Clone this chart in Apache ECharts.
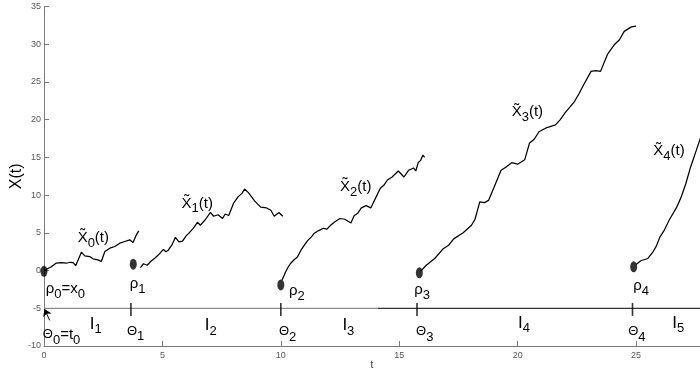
<!DOCTYPE html>
<html><head><meta charset="utf-8">
<script src="https://cdn.jsdelivr.net/npm/echarts@6/dist/echarts.min.js"></script>
<style>html,body{margin:0;padding:0;background:#fff}#c{width:700px;height:372px}</style>
</head><body><div id="c"></div>
<script>
// ---- data ----
var xTicks = [0, 5, 10, 15, 20, 25];
var yTicks = [-10, -5, 0, 5, 10, 15, 20, 25, 30, 35];
var x0Path = [[0,0],[0.31,0.5],[0.52,1.0],[0.73,1.06],[0.94,0.97],[1.1,1.1],[1.23,1.06],[1.34,0.66],[1.58,2.44],[1.72,1.95],[1.93,1.86],[2.07,1.55],[2.28,1.42],[2.42,1.2],[2.57,2.52],[2.78,2.97],[2.99,3.19],[3.2,3.63],[3.41,3.85],[3.62,4.07],[3.76,3.71],[3.9,4.73],[4.0,5.26]];
var x1Path = [[4.07,0.4],[4.2,0.9],[4.36,0.7],[4.5,1.2],[4.7,1.7],[4.9,2.3],[5.04,2.8],[5.15,2.5],[5.25,2.7],[5.4,3.4],[5.55,4.4],[5.7,3.8],[5.85,3.9],[6.0,4.6],[6.1,4.9],[6.3,5.6],[6.48,6.4],[6.6,6.0],[6.8,6.7],[7.03,7.7],[7.16,7.2],[7.35,7.4],[7.54,6.9],[7.65,7.5],[7.8,7.3],[8.0,8.9],[8.2,9.8],[8.35,10.2],[8.47,10.8],[8.64,10.3],[8.9,9.2],[9.15,8.4],[9.4,8.3],[9.58,8.0],[9.72,7.2],[9.79,7.4],[9.92,7.7],[10.08,7.2]];
var x2Path = [[10.05,-1.3],[10.2,-0.2],[10.3,0.4],[10.4,0.9],[10.55,1.4],[10.7,1.8],[10.85,2.7],[11.0,3.4],[11.14,4.0],[11.3,4.5],[11.4,4.9],[11.6,5.3],[11.8,5.6],[11.95,5.5],[12.1,6.0],[12.3,6.5],[12.5,6.9],[12.7,6.8],[12.96,6.3],[13.1,7.3],[13.25,7.6],[13.4,8.3],[13.6,8.6],[13.8,8.3],[14.0,9.6],[14.2,10.9],[14.35,11.3],[14.5,12.0],[14.7,12.4],[14.96,13.2],[15.2,12.4],[15.4,13.3],[15.6,13.6],[15.7,13.2],[15.8,14.3],[15.9,14.6],[16.0,15.3],[16.07,15.0]];
var x3Path = [[15.9,-0.1],[16.14,0.7],[16.5,1.6],[16.86,2.9],[17.1,3.4],[17.3,4.2],[17.7,5.0],[18.05,6.0],[18.2,6.8],[18.4,9.1],[18.6,9.0],[18.77,9.3],[19.0,11.0],[19.3,13.3],[19.5,13.7],[19.75,14.3],[20.0,14.1],[20.3,14.7],[20.5,16.9],[20.7,17.4],[20.9,18.4],[21.2,18.9],[21.6,19.3],[21.8,20.0],[22.0,20.9],[22.4,22.4],[22.6,23.5],[22.8,24.7],[23.1,26.4],[23.3,26.5],[23.5,26.4],[23.8,28.7],[24.1,30.0],[24.3,30.6],[24.5,31.7],[24.8,32.3],[25.0,32.4]];
var x4Path = [[25.0,0.8],[25.2,1.3],[25.5,1.6],[25.7,2.4],[25.85,3.2],[26.0,4.4],[26.2,5.4],[26.4,6.7],[26.7,8.3],[26.9,9.7],[27.1,11.5],[27.3,13.7],[27.55,16.0],[27.8,18.3]];
var rhoPoints = [[0,-0.1],[3.77,0.85],[10.0,-1.9],[15.85,-0.3],[24.9,0.5]];
var thetaTimes = [3.67, 10.0, 15.75, 24.85];
var baseLevel = -5;
var baseSplit = 14.1;
var tMax = 27.7;

// annotation texts: [t, v, richText]
var annotations = [
  [1.42, 4.34, '{m|X\u0303}{s|0}{m|(t)}'],
  [5.81, 8.9, '{m|X\u0303}{s|1}{m|(t)}'],
  [12.5, 11.1, '{m|X\u0303}{s|2}{m|(t)}'],
  [19.75, 21.0, '{m|X\u0303}{s|3}{m|(t)}'],
  [25.73, 15.8, '{m|X\u0303}{s|4}{m|(t)}'],
  [0.07, -2.43, '{m|\u03c1}{s|0}{m|=x}{s|0}'],
  [3.62, -1.77, '{m|\u03c1}{s|1}'],
  [10.34, -2.7, '{m|\u03c1}{s|2}'],
  [15.63, -2.55, '{m|\u03c1}{s|3}'],
  [24.88, -2.0, '{m|\u03c1}{s|4}'],
  [-0.05, -8.5, '{t|\u0398}{s|0}{m|=t}{s|0}'],
  [3.5, -8.06, '{t|\u0398}{s|1}'],
  [9.92, -8.1, '{t|\u0398}{s|2}'],
  [15.71, -8.1, '{t|\u0398}{s|3}'],
  [24.67, -8.1, '{t|\u0398}{s|4}'],
  [1.93, -7.07, '{i|I}{s|1}'],
  [6.79, -7.3, '{i|I}{s|2}'],
  [12.6, -7.3, '{i|I}{s|3}'],
  [20.02, -7.0, '{i|I}{s|4}'],
  [26.53, -7.0, '{i|I}{s|5}']
];
var arrowFrom = [0.24, -6.6];
var arrowTo = [0.02, -5.1];

// ---- chart ----
var FONT = 'Liberation Sans, Arial, sans-serif';
var chart = echarts.init(document.getElementById('c'), null, {renderer: 'canvas'});
function pathSeries(d) {
  return {type: 'line', data: d, showSymbol: false, symbol: 'none', animation: false,
    lineStyle: {color: '#000', width: 1.25}, z: 3};
}
chart.setOption({
  animation: false,
  grid: {left: 44, right: 0, top: 6.5, bottom: 26, containLabel: false, outerBoundsMode: 'none'},
  xAxis: {
    type: 'value', min: 0, max: tMax, interval: 5,
    name: 't', nameLocation: 'middle', nameGap: 14, nameMoveOverlap: false,
    nameTextStyle: {fontSize: 10, color: '#333', fontFamily: FONT, verticalAlign: 'top'},
    axisLine: {onZero: false, lineStyle: {color: '#7a7a7a', width: 1}},
    axisTick: {inside: true, length: 5, lineStyle: {color: '#7a7a7a'}},
    axisLabel: {fontSize: 9, color: '#555', fontFamily: FONT, margin: 5, showMaxLabel: false,
      formatter: function (v) { return xTicks.indexOf(v) >= 0 ? String(v) : ''; }},
    splitLine: {show: false}
  },
  yAxis: {
    type: 'value', min: -10, max: 35, interval: 5,
    name: 'X(t)', nameLocation: 'middle', nameGap: 19, nameMoveOverlap: false,
    nameTextStyle: {fontSize: 16, color: '#000', fontFamily: FONT},
    axisLine: {show: true, onZero: false, lineStyle: {color: '#7a7a7a', width: 1}},
    axisTick: {show: true, inside: true, length: 5, lineStyle: {color: '#7a7a7a'}},
    axisLabel: {fontSize: 9, color: '#555', fontFamily: FONT, margin: 3,
      formatter: function (v) { return yTicks.indexOf(v) >= 0 ? String(v) : ''; }},
    splitLine: {show: false}
  },
  series: [
    {type: 'line', data: [[0, baseLevel], [baseSplit, baseLevel]], symbol: 'none',
      lineStyle: {color: '#8a8a8a', width: 1.2}, z: 2},
    {type: 'line', data: [[baseSplit, baseLevel], [tMax, baseLevel]], symbol: 'none',
      lineStyle: {color: '#333', width: 1.2}, z: 2,
      markLine: {silent: true, symbol: ['none', 'arrow'], symbolSize: 7,
        lineStyle: {color: '#000', width: 1, type: 'solid'}, label: {show: false},
        data: [[{coord: arrowFrom}, {coord: arrowTo}]]}},
    pathSeries(x0Path), pathSeries(x1Path), pathSeries(x2Path), pathSeries(x3Path), pathSeries(x4Path),
    {type: 'scatter', data: thetaTimes.map(function (t) { return [t, baseLevel - 0.15]; }),
      symbol: 'rect', symbolSize: [1.6, 13], itemStyle: {color: '#000'}, z: 4},
    {type: 'scatter', data: rhoPoints, symbol: 'circle', symbolSize: [7, 11],
      itemStyle: {color: '#000'}, z: 5}
  ]
});

var rich = {
  m: {fontSize: 15, lineHeight: 24, verticalAlign: 'middle', fontFamily: FONT, color: '#000'},
  i: {fontSize: 17, lineHeight: 24, verticalAlign: 'middle', fontFamily: FONT, color: '#000'},
  t: {fontSize: 13, lineHeight: 24, verticalAlign: 'middle', fontFamily: FONT, color: '#000'},
  s: {fontSize: 13, lineHeight: 24, verticalAlign: 'bottom', fontFamily: FONT, color: '#000'}
};
var g = annotations.map(function (a) {
  var p = chart.convertToPixel({gridIndex: 0}, [a[0], a[1]]);
  return {type: 'text', x: p[0], y: p[1], z: 10,
    style: {text: a[2], rich: rich, align: 'left', verticalAlign: 'middle', fill: '#000'}};
});
chart.setOption({graphic: g});
</script></body></html>
